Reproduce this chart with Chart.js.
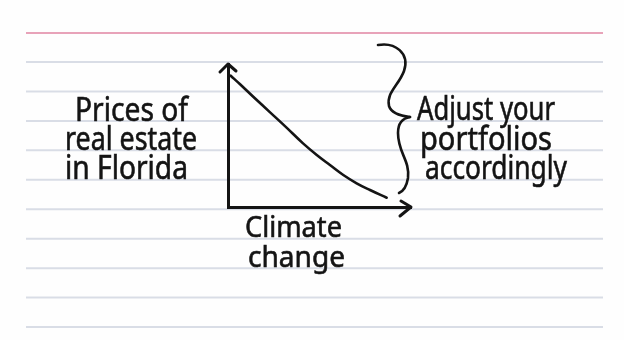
<!DOCTYPE html>
<html>
<head>
<meta charset="utf-8">
<script src="https://cdn.jsdelivr.net/npm/chart.js@4/dist/chart.umd.min.js"></script>
<style>
  html, body { margin: 0; padding: 0; background: #ffffff; }
  canvas { display: block; }
</style>
</head>
<body>
<canvas id="c" width="624" height="340"></canvas>
<script>
// ---- data ----
const climateChange = [1.5, 6.6, 13.8, 23, 32, 41, 48.5, 55.7, 63, 70.3, 77.6, 86.7];
const floridaPrices = [91.8, 85.8, 77.1, 66.2, 55.5, 44.5, 36.4, 29.4, 22.4, 16.6, 11.9, 6.5];
const yLabelLines = ['Prices of', 'real estate', 'in Florida'];
const xLabelLines = ['Climate', 'change'];
const noteLines = ['Adjust your', 'portfolios', 'accordingly'];

// ---- layout (pixels), kept apart from the data ----
const INK = '#141414';
const card = { left: 26, right: 603, red: 33, firstBlue: 62, step: 29.45, count: 10 };
const yLabelPos = [[75, 121, 113], [65, 150, 132], [65, 179, 123]];
const xLabelPos = [[245, 237, 97], [248, 267, 97]];
const notePos = [[417, 120, 138], [420, 150, 132], [425, 179, 142]];

const points = climateChange.map((x, i) => ({ x: x, y: floridaPrices[i] }));

function drawText(ctx, text, x, y, w, size) {
  ctx.save();
  ctx.font = size + 'px "Noto Sans"';
  ctx.textBaseline = 'alphabetic';
  ctx.textAlign = 'left';
  const m = ctx.measureText(text).width;
  ctx.translate(x, y);
  ctx.scale(w / m, 1);
  ctx.fillStyle = INK;
  ctx.strokeStyle = INK;
  ctx.lineWidth = 0.6;
  ctx.fillText(text, 0, 0);
  ctx.strokeText(text, 0, 0);
  ctx.restore();
}

const cardPlugin = {
  id: 'card',
  beforeDraw(chart) {
    const ctx = chart.ctx;
    ctx.save();
    ctx.fillStyle = '#fefefe';
    ctx.fillRect(0, 0, chart.width, chart.height);
    ctx.lineWidth = 2;
    ctx.strokeStyle = '#e8a3b9';
    ctx.beginPath();
    ctx.moveTo(card.left, card.red);
    ctx.lineTo(card.right, card.red);
    ctx.stroke();
    ctx.strokeStyle = '#d9dde6';
    for (let i = 0; i < card.count; i++) {
      const y = card.firstBlue + i * card.step;
      ctx.beginPath();
      ctx.moveTo(card.left, y);
      ctx.lineTo(card.right, y);
      ctx.stroke();
    }
    ctx.restore();
  },
  afterDraw(chart) {
    const ctx = chart.ctx;
    const a = chart.chartArea;
    ctx.save();
    ctx.strokeStyle = INK;
    ctx.lineWidth = 3;
    ctx.lineCap = 'round';
    ctx.lineJoin = 'round';
    // arrow heads
    ctx.beginPath();
    ctx.moveTo(a.left - 8, a.top + 8);
    ctx.lineTo(a.left, a.top);
    ctx.lineTo(a.left + 8, a.top + 7);
    ctx.stroke();
    ctx.beginPath();
    ctx.moveTo(a.right - 10, a.bottom - 6);
    ctx.lineTo(a.right, a.bottom);
    ctx.lineTo(a.right - 11, a.bottom + 9);
    ctx.stroke();
    // curly brace
    ctx.lineWidth = 2.6;
    const bx = a.right - 33, by = a.top - 19;
    ctx.beginPath();
    ctx.moveTo(bx, by);
    ctx.bezierCurveTo(bx + 17, by - 3, bx + 32, by + 8, bx + 26, by + 26);
    ctx.bezierCurveTo(bx + 21, by + 40, bx + 8, by + 48, bx + 11, by + 61);
    ctx.quadraticCurveTo(bx + 14, by + 70, bx + 32, by + 72);
    ctx.stroke();
    ctx.beginPath();
    ctx.moveTo(bx + 32, by + 72);
    ctx.quadraticCurveTo(bx + 20, by + 74, bx + 20, by + 88);
    ctx.bezierCurveTo(bx + 20, by + 108, bx + 32, by + 115, bx + 30, by + 133);
    ctx.quadraticCurveTo(bx + 28, by + 145, bx + 21, by + 148);
    ctx.stroke();
    ctx.restore();
    yLabelLines.forEach((t, i) => drawText(ctx, t, yLabelPos[i][0], yLabelPos[i][1], yLabelPos[i][2], 32));
    xLabelLines.forEach((t, i) => drawText(ctx, t, xLabelPos[i][0], xLabelPos[i][1], xLabelPos[i][2], 29));
    noteLines.forEach((t, i) => drawText(ctx, t, notePos[i][0], notePos[i][1], notePos[i][2], 32));
  }
};

new Chart(document.getElementById('c'), {
  type: 'line',
  data: {
    datasets: [{
      data: points,
      borderColor: INK,
      borderWidth: 2.6,
      pointRadius: 0,
      fill: false,
      tension: 0.4,
      borderCapStyle: 'round',
      borderJoinStyle: 'round'
    }]
  },
  options: {
    responsive: false,
    animation: false,
    devicePixelRatio: 1,
    events: [],
    layout: { padding: { left: 228, right: 213, top: 64, bottom: 133 } },
    plugins: { legend: { display: false }, tooltip: { enabled: false }, title: { display: false } },
    scales: {
      x: {
        type: 'linear', min: 0, max: 100,
        grid: { display: false, drawTicks: false },
        ticks: { display: false },
        border: { display: true, color: INK, width: 3 }
      },
      y: {
        type: 'linear', min: 0, max: 100,
        grid: { display: false, drawTicks: false },
        ticks: { display: false },
        border: { display: true, color: INK, width: 3 }
      }
    }
  },
  plugins: [cardPlugin]
});
</script>
</body>
</html>
